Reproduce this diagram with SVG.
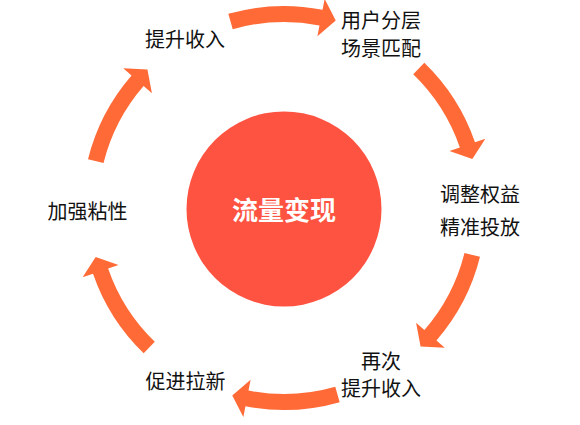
<svg xmlns="http://www.w3.org/2000/svg" xmlns:xlink="http://www.w3.org/1999/xlink" width="580" height="425" viewBox="0 0 580 425">
  <style>
    .lbl { font-family: "Noto Sans CJK SC", "Noto Sans", sans-serif; font-size: 20px; fill: #111111; text-anchor: middle; }
    .hub { font-family: "Noto Sans CJK SC", "Noto Sans", sans-serif; font-size: 26px; font-weight: bold; fill: #ffffff; text-anchor: middle; }
    .arrow { fill: #FF6A37; }
  </style>
  <defs>
    <path id="arc-arrow" class="arrow" d="M 480.00 256.87 A 202 202 0 0 1 436.45 340.52 L 444.75 347.74 L 420.57 346.60 L 416.07 322.81 L 424.38 330.03 A 186 186 0 0 0 464.48 253.00 Z"/>
  </defs>
  <rect x="0" y="0" width="580" height="425" fill="#ffffff"/>
  <g id="connectors">
    <use xlink:href="#arc-arrow" href="#arc-arrow"/>
    <use xlink:href="#arc-arrow" href="#arc-arrow" transform="rotate(60 284 208)"/>
    <use xlink:href="#arc-arrow" href="#arc-arrow" transform="rotate(120 284 208)"/>
    <use xlink:href="#arc-arrow" href="#arc-arrow" transform="rotate(180 284 208)"/>
    <use xlink:href="#arc-arrow" href="#arc-arrow" transform="rotate(240 284 208)"/>
    <use xlink:href="#arc-arrow" href="#arc-arrow" transform="rotate(300 284 208)"/>
  </g>
  <g id="hub">
    <circle cx="284" cy="209" r="97.5" fill="#FF5342"/>
    <text class="hub" x="284" y="219.5">流量变现</text>
  </g>
  <g id="node-adjust">
    <text class="lbl" x="480" y="201.5">调整权益</text>
    <text class="lbl" x="480" y="235">精准投放</text>
  </g>
  <g id="node-again">
    <text class="lbl" x="381" y="368.5">再次</text>
    <text class="lbl" x="381" y="396">提升收入</text>
  </g>
  <g id="node-acquire">
    <text class="lbl" x="185.5" y="388.5">促进拉新</text>
  </g>
  <g id="node-retention">
    <text class="lbl" x="87.5" y="219">加强粘性</text>
  </g>
  <g id="node-revenue">
    <text class="lbl" x="185" y="47">提升收入</text>
  </g>
  <g id="node-segment">
    <text class="lbl" x="381" y="27.5">用户分层</text>
    <text class="lbl" x="381" y="56">场景匹配</text>
  </g>
</svg>
